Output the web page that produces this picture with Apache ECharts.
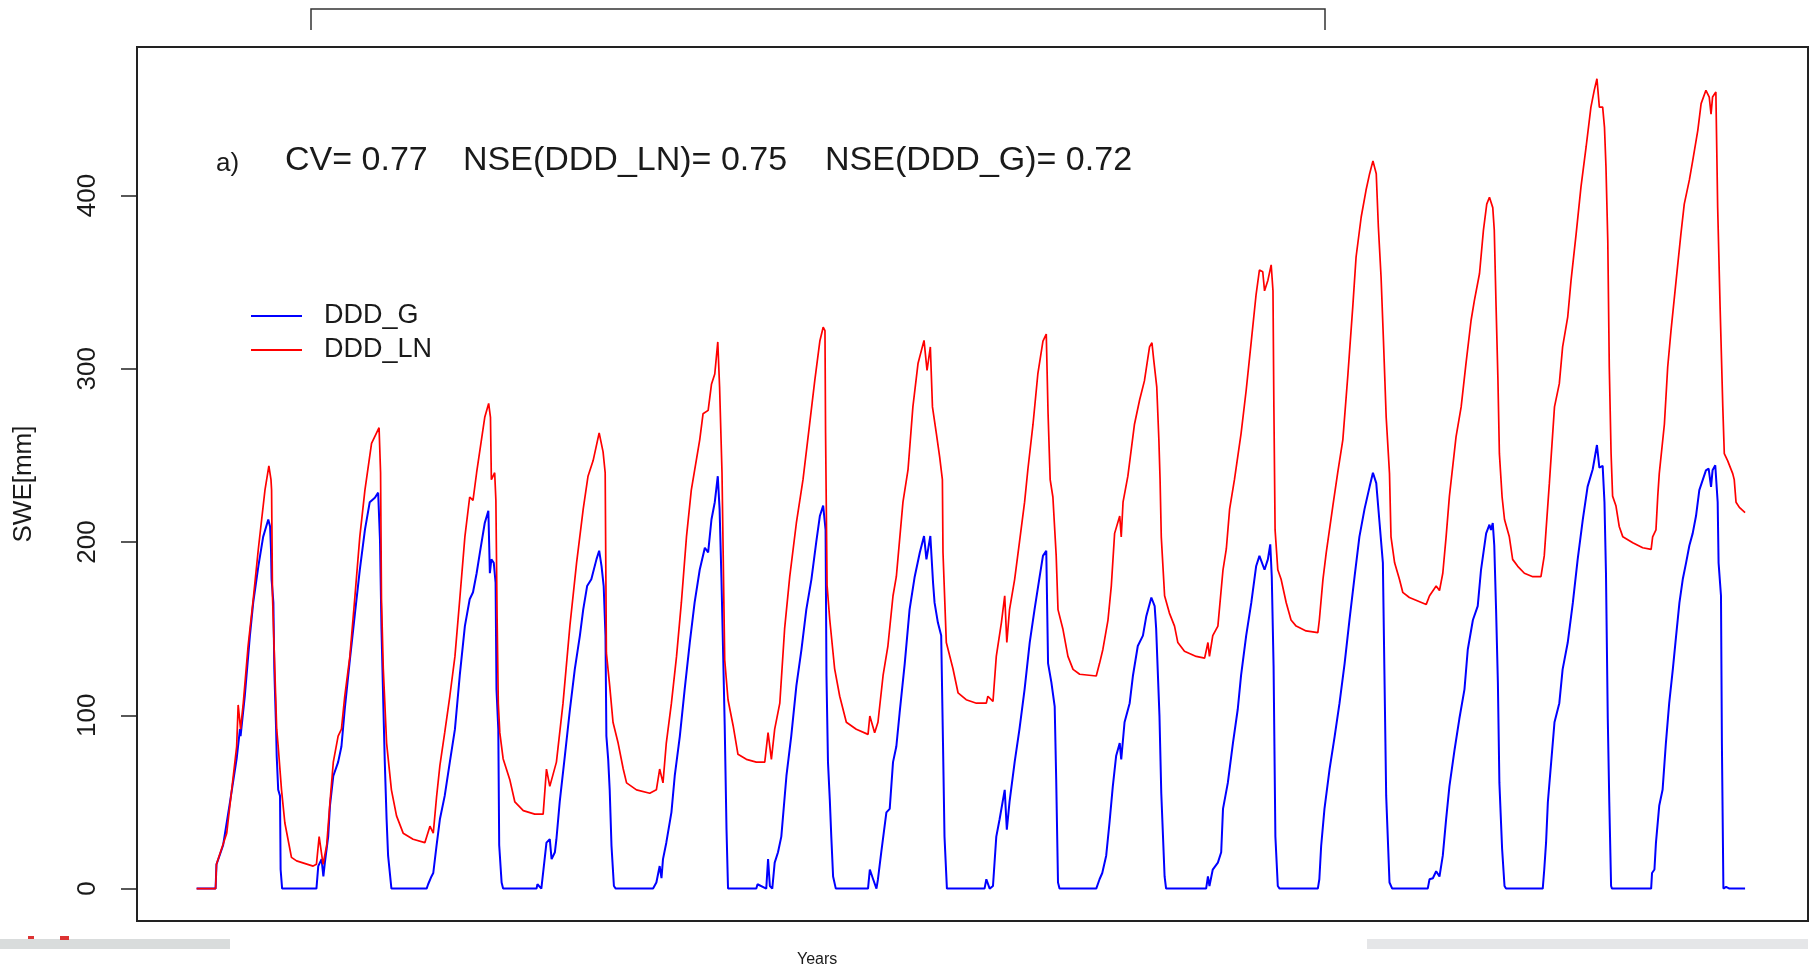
<!DOCTYPE html>
<html>
<head>
<meta charset="utf-8">
<title>SWE DDD_G / DDD_LN</title>
<script src="https://cdn.jsdelivr.net/npm/echarts@6.0.0/dist/echarts.min.js"></script>
<style>
  html, body { margin: 0; padding: 0; background: #fff; }
  #chart { width: 1814px; height: 970px; }
</style>
</head>
<body>
<div id="chart"></div>
<script>
// SWE series, x = day index from the start of the run
const lnDay = [0,63,66,100,133,138,146,155,171,188,205,227,240,247,249,252,260,266,271,282,293,315,332,387,398,407,420,432,443,454,470,481,492,509,526,542,559,581,606,611,614,620,631,647,664,686,719,758,775,786,797,808,824,841,858,874,891,907,918,930,957,970,976,979,990,994,998,1002,1007,1018,1040,1057,1085,1123,1151,1162,1173,1195,
  1217,1240,1262,1284,1300,1317,1337,1350,1357,1361,1372,1383,1400,1417,1428,1461,1505,1527,1538,1549,1560,1577,1594,1610,1627,1643,1671,1682,1699,1710,1721,1731,1737,1745,1749,1754,1765,1782,1798,1826,1859,1887,1898,1909,1920,1937,1953,1970,1992,2014,2036,2053,2070,2081,2087,2089,2094,2103,2119,2136,2158,2191,2230,2236,2252,2263,2280,2296,2313,2324,2346,2363,2379,2396,2416,2426,2437,2444,2457,2468,2477,2479,2490,2512,2529,2556,2590,
  2623,2628,2645,2656,2673,2684,2691,2700,2717,2733,2750,2761,2778,2794,2811,2822,2828,2835,2844,2855,2861,2877,2894,2911,2933,2988,2999,3010,3027,3038,3049,3066,3071,3077,3093,3115,3132,3148,3165,3173,3179,3189,3196,3200,3204,3215,3231,3248,3259,3281,3320,3348,3359,3364,3375,3392,3409,3420,3431,3447,3469,3486,3503,3519,3530,3541,3547,3558,3569,3575,3578,3582,3591,3602,3619,3635,3652,3685,3724,3729,3741,3752,3774,3790,3807,3824,3840,3851,3868,3884,3896,3907,3918,3925,3934,3942,3951,3962,3967,3979,
  3995,4006,4028,4084,4095,4117,4128,4139,4150,4161,4183,4200,4216,4233,4244,4261,4274,4285,4294,4305,4310,4316,4322,4327,4336,4344,4360,4371,4388,4410,4438,4465,4476,4482,4493,4510,4526,4537,4554,4565,4582,4598,4615,4631,4642,4651,4659,4670,4676,4681,4687,4692,4698,4703,4714,4725,4737,4770,4803,4831,4836,4847,4853,4858,4875,4886,4897,4914,4930,4941,4958,4969,4986,4997,5013,5024,5030,5035,5046,5052,5060,5069,5074,5085,5102,5107,5113,5124,5143];
const lnSwe = [0,0,14,32,82,106,92,107,140,167,196,230,244,236,230,169,125,92,82,57,38,18,16,13,14,30,14,25,50,73,88,92,111,134,169,203,230,257,266,240,167,127,84,57,42,32,28.5,26.5,36,32,53,71,90,111,134,167,203,226,224,240,272,280,272,236,240,224,157,107,90,75,63,50,45,43,43,69,59,73,
  107,152,188,219,238,247,263,252,240,136,117,96,84,69,61,57,55,57,69,61,84,107,134,165,203,230,259,274,276,291,297,315.5,289.5,240,192,132,109,94,77.5,74.6,73,73,90,74.6,92,107,150,180,211,236,268,293,316,324,322,263,175,155,127,111,96,92,89,99.6,90,96,123,140,169,180,223,242,278,303,316.4,299,312.6,278,262.6,249,236,194,142,127,113,109,107,
  107,111,108,134,153.5,169,142,161,178.5,200,223,242,268,297,316,320,274,236,226,192,161,150,134,126.5,123.7,122.7,130,138,155,174.6,205,215,203,223,238,268,282,293,312.6,315,305,289.5,259,236,203,169,159,151.5,142,137,134,133,142,134,146,151.5,184,196,219,236,262.6,287.6,316,343,357,356,345,351,360,345,278,207,184,178.5,165,155,151.5,148.7,147.7,155,178.5,194,221,240,259,297,335.7,364.5,387.6,403,412.6,420,412.6,382,353,316,272,239.5,203,188,
  178.5,171,168,164,169,174.6,172,182,203,226.5,260.7,278,303,328,339.5,355,380,395,399,393,380,336,295,251,226,213,203,190,186,182,180,180,192,207,234,278,291.4,312.6,330,351,378,405,428,451,460.7,467.4,451,451,439.5,416.5,374,301,251,226.5,221,209,203,199.6,196.7,195.8,203,207,226.5,239.5,268,301,322,351,378,395,409,420,437.6,453,460.7,456.8,447,456.8,459.7,393,336,278,251,247,239.5,236,223,220,217];

const gDay = [0,63,66,88,111,133,144,146,160,177,188,205,221,238,244,247,249,255,258,260,264,266,271,277,279,284,398,404,415,421,426,437,443,454,470,481,492,509,526,542,559,575,592,603,609,614,620,625,631,636,647,764,769,780,786,797,808,824,841,858,874,891,907,918,930,941,957,969,974,979,987,993,996,1002,1005,1013,1018,1129,1132,1145,1151,1162,1173,1179,1190,
  1195,1206,1223,1240,1256,1273,1284,1297,1311,1328,1337,1345,1352,1358,1361,1367,1372,1378,1386,1392,1516,1527,1538,1544,1549,1560,1577,1588,1605,1621,1638,1654,1671,1688,1699,1710,1721,1731,1737,1743,1749,1754,1760,1765,1859,1863,1892,1898,1904,1912,1920,1931,1942,1959,1975,1992,2009,2025,2042,2058,2070,2081,2089,2092,2097,2103,2108,2114,2123,2230,2236,2247,2258,2263,2274,2291,2302,2313,2324,2335,2352,2368,2385,2402,2416,2424,2437,2446,2451,2462,2473,2479,2484,2492,
  2617,2623,2634,2645,2656,2667,2684,2691,2700,2717,2733,2750,2767,2783,2800,2811,2822,2828,2839,2850,2855,2861,2866,2988,2999,3008,3021,3032,3043,3054,3066,3071,3082,3099,3110,3126,3143,3154,3171,3182,3187,3198,3204,3215,3220,3353,3359,3364,3375,3392,3403,3409,3425,3442,3458,3469,3486,3503,3519,3530,3536,3547,3558,3566,3571,3577,3583,3591,3597,3724,3729,3735,3746,3763,3780,3796,3813,3829,3846,3862,3879,3896,3907,3918,3929,3940,3945,3951,3962,3971,
  4089,4095,4106,4117,4128,4139,4150,4161,4178,4194,4211,4222,4239,4255,4266,4283,4294,4299,4305,4310,4316,4322,4327,4336,4344,4349,4471,4476,4482,4488,4499,4510,4526,4537,4554,4571,4587,4604,4620,4637,4651,4659,4670,4676,4681,4687,4692,4698,4701,4831,4834,4842,4847,4858,4869,4880,4891,4903,4914,4925,4936,4947,4958,4969,4980,4991,5013,5022,5030,5035,5044,5052,5055,5063,5066,5071,5080,5091,5143];
const gSwe = [0,0,14,25,50,75,92,88,111,146,165,186,203,213,209,196,178.5,165,127,115,92,76.5,57,53.5,11,0,0,13,17,7,15,30,48,65,73,82,103.5,132,159,184,207,223,225.6,228.5,201.5,150,107,73,40,19,0,0,2.5,7,9,25,40,53.5,73,92,123,151.5,167,171,182,194,211,218,182,190,188,176.5,115,92,25,3.5,0,0,2.5,0,0,26.5,28.5,17,21,
  28.5,50,76.5,103.5,126.5,146,161,174.6,178.5,190,195,186,174.6,146,88,74.6,57,24.6,1.5,0,0,3.5,13,6,17,26.5,44,65,88,115,142,165,184,196.7,194,213,223,238,219,180,134,94,34,0,0,2.5,0,17,1.5,0,15,21,30,65,88,117,138,161,178.5,200,215,221,207,123,73,51.5,30,7,0,0,11,5.4,0,5.4,21,44,46,73,82,101.5,130,161,180,194,203.5,190,203.5,176.5,165,153.5,146,84,30,0,
  0,5.4,0,1.5,30,40,57,34,50,73,92,115,142,161,180,192,195,130,119,105,63,3.5,0,0,5.4,9,19,38,59,76.5,84,74.6,96,107,123,140,146,157,168,163,150,99.6,55,7,0,0,7,1.5,11,15,21,46,61,84,103.5,123,146,165,186,192,193,184,190,198.7,180,128.5,30,1.5,0,0,5.4,24.6,46,69,88,107,130,155,180,203,219,232,240,234,211,188,126.5,53.5,3.5,0,
  0,5.4,6,10,7,19,40,59,80,98,115,138,155,163,184,205,210,207,211,198,161,119,61,23,1.5,0,0,11,26.5,50,73,96,107,126.5,142,165,190,213,232,242,256,243,244,223,182,98,50,1.5,0,0,9,11,26.5,48,57,84,107,126.5,146,165,178.5,188,198,205,215,230,241.4,242.4,231.8,241.4,244.3,223,188,169,84,0,1,0,0];

const yTicks = [0, 100, 200, 300, 400];
const statLabels = ["CV= 0.77", "NSE(DDD_LN)= 0.75", "NSE(DDD_G)= 0.72"];

const FONT = "Liberation Sans, Arial, sans-serif";
const pair = (xs, ys) => xs.map((d, i) => [d, ys[i]]);

const chart = echarts.init(document.getElementById("chart"));

const option = {
  backgroundColor: "#fff",
  animation: false,
  grid: {
    left: 137, right: 6, top: 47, bottom: 49,
    show: true, borderColor: "#222", borderWidth: 2,
    outerBoundsMode: "none"
  },
  legend: {
    data: ["DDD_G", "DDD_LN"],
    orient: "vertical",
    left: 246,
    top: 297,
    icon: "rect",
    itemWidth: 51,
    itemHeight: 2,
    itemGap: 6,
    selectedMode: false,
    textStyle: { fontSize: 27, lineHeight: 28, color: "#1a1a1a", fontFamily: FONT, padding: [0, 0, 0, 17] }
  },
  xAxis: {
    type: "value",
    min: -198,
    max: 5352,
    axisLine: { show: false, onZero: false },
    axisTick: { show: false },
    axisLabel: { show: false },
    splitLine: { show: false }
  },
  yAxis: {
    type: "value",
    min: -18.7,
    max: 485.7,
    name: "SWE[mm]",
    nameLocation: "middle",
    nameGap: 100,
    nameRotate: 90,
    nameTextStyle: { fontSize: 26, color: "#1a1a1a", fontFamily: FONT },
    axisLine: { show: false, onZero: false },
    axisTick: {
      show: true, inside: false, length: 16,
      customValues: yTicks,
      lineStyle: { color: "#222", width: 1.5 }
    },
    axisLabel: {
      customValues: yTicks,
      rotate: 90,
      margin: 36,
      fontSize: 26,
      color: "#1a1a1a",
      fontFamily: FONT
    },
    splitLine: { show: false }
  },
  series: [
    {
      name: "DDD_G",
      type: "line",
      data: pair(gDay, gSwe),
      showSymbol: false,
      symbol: "none",
      color: "#0000ff",
      lineStyle: { color: "#0000ff", width: 2 }
    },
    {
      name: "DDD_LN",
      type: "line",
      data: pair(lnDay, lnSwe),
      showSymbol: false,
      symbol: "none",
      color: "#ff0000",
      lineStyle: { color: "#ff0000", width: 1.7 }
    }
  ],
  graphic: [
    // bracket above the plot
    { type: "polyline", shape: { points: [[311, 30], [311, 9], [1325, 9], [1325, 30]] },
      style: { stroke: "#333", lineWidth: 1.5, fill: null } },
    { type: "text", left: 216, top: 151, style: { text: "a)", fill: "#1a1a1a", font: "26px " + FONT } },
    { type: "text", left: 285, top: 144, style: { text: statLabels[0], fill: "#1a1a1a", font: "34px " + FONT } },
    { type: "text", left: 463, top: 144, style: { text: statLabels[1], fill: "#1a1a1a", font: "34px " + FONT } },
    { type: "text", left: 825, top: 144, style: { text: statLabels[2], fill: "#1a1a1a", font: "34px " + FONT } },
    { type: "text", left: 797, top: 952, style: { text: "Years", fill: "#1a1a1a", font: "16px " + FONT } },
    // grey strips along the bottom edge
    { type: "rect", shape: { x: 0, y: 939, width: 230, height: 10 }, style: { fill: "#d9dcdc" } },
    { type: "rect", shape: { x: 28, y: 936, width: 6, height: 3 }, style: { fill: "#d33" } },
    { type: "rect", shape: { x: 60, y: 936, width: 9, height: 4 }, style: { fill: "#d33" } },
    { type: "rect", shape: { x: 1367, y: 939, width: 441, height: 10 }, style: { fill: "#e5e6e8" } }
  ]
};

chart.setOption(option);
</script>
</body>
</html>
